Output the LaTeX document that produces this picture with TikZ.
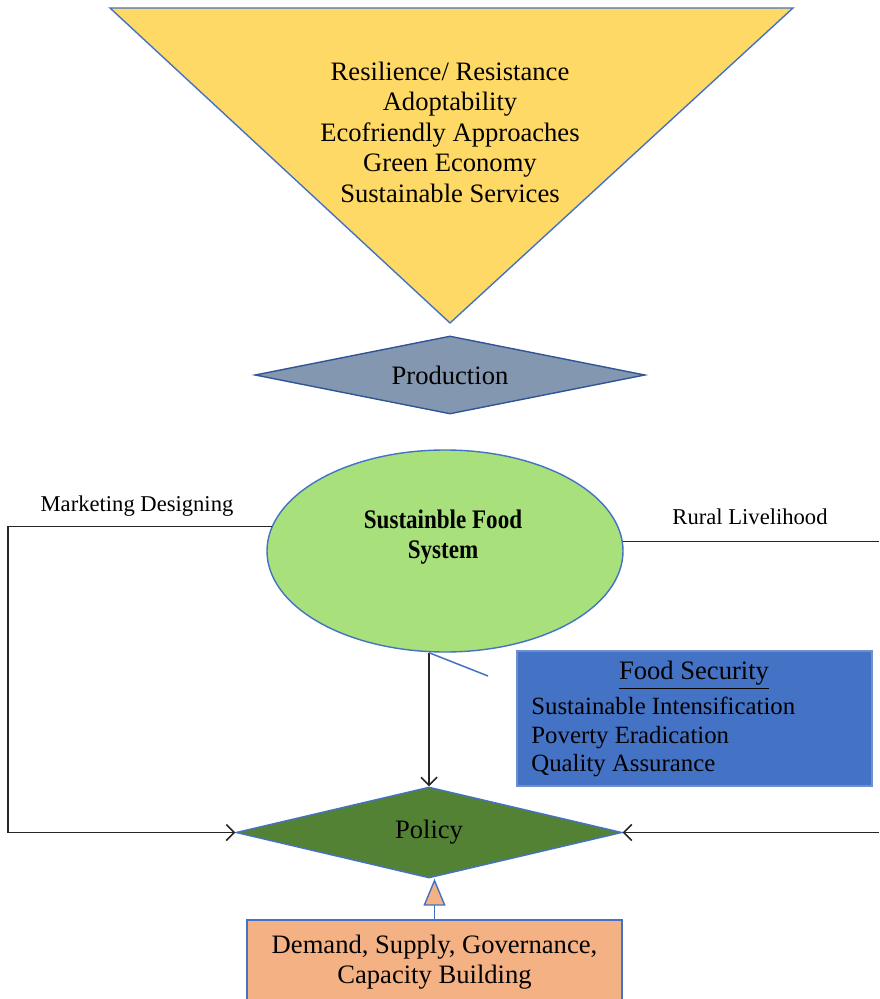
\documentclass[tikz,border=0pt]{standalone}
\usepackage{fontspec}
\setmainfont{Liberation Serif}
\newfontfamily\narrowserif[FakeStretch=0.86]{Liberation Serif}
\usetikzlibrary{shapes.geometric,arrows.meta}

\definecolor{goldfill}{HTML}{FFD966}
\definecolor{slatefill}{HTML}{8497B0}
\definecolor{slateline}{HTML}{2F5597}
\definecolor{limefill}{HTML}{A8E07C}
\definecolor{officeblue}{HTML}{4472C4}
\definecolor{lightblueline}{HTML}{6F8FD0}
\definecolor{policygreen}{HTML}{548235}
\definecolor{peachfill}{HTML}{F4B183}

\tikzset{
  big/.style={font=\fontsize{13.3}{15.25}\selectfont},
  small/.style={font=\fontsize{11.3}{13.5}\selectfont},
  outline/.style={draw=officeblue, line width=0.7pt},
  conn/.style={draw=black!85, line width=0.75pt},
  chev/.style={-{Straight Barb[length=4pt,width=8pt,line width=0.75pt]}},
  diamondbox/.style={diamond, inner sep=0pt, outline},
}

\begin{document}
\begin{tikzpicture}[x=0.5pt, y=-0.5pt]
  \useasboundingbox (0,0) rectangle (879,999);

  % goals triangle
  \draw[outline, fill=goldfill] (110,8) -- (793,8) -- (450,323) -- cycle;
  \node[big, align=center] (goals) at (450,132)
    {Resilience/ Resistance\\Adoptability\\Ecofriendly Approaches\\Green Economy\\Sustainable Services};

  % production
  \node[diamondbox, draw=slateline, fill=slatefill, aspect=5,
        minimum width=195pt, minimum height=39pt, big] (prod) at (450,375) {Production};

  % central ellipse
  \node[ellipse, outline, fill=limefill, minimum width=178pt, minimum height=101pt] (sfs) at (445,551) {};
  \node[font=\narrowserif\fontsize{13.4}{15}\selectfont\bfseries, align=center] (sfsText) at (443,537)
    {Sustainble Food\\System};

  % policy
  \node[diamondbox, fill=policygreen, aspect=4,
        minimum width=193pt, minimum height=45.5pt, big] (pol) at (429,832.5) {Policy};

  % food security box
  \node[draw=lightblueline, line width=0.7pt, fill=officeblue, minimum width=177.5pt,
        minimum height=67.5pt, inner sep=0pt] (fs) at (694.5,718.5) {};
  \node[big] (fsTitle) at (694,675) {\underline{Food Security}};
  \node[font=\fontsize{12.4}{14.25}\selectfont, align=left, anchor=west, inner sep=0pt] (fsList) at (531,737)
    {Sustainable Intensification\\Poverty Eradication\\Quality Assurance};

  % demand box
  \node[outline, fill=peachfill, minimum width=187.5pt, minimum height=42pt,
        inner sep=0pt, big, align=center] (dem) at (434.5,962)
    {Demand, Supply, Governance,\\Capacity Building};

  % side labels
  \node[small] (mkt) at (137,506) {Marketing Designing};
  \node[small] (rural) at (750,517) {Rural Livelihood};

  % helper coordinates on the page edges
  \coordinate (leftRail) at (8,700);
  \coordinate (rightRail) at (879,540);
  \coordinate (rightIn) at (879,832.5);
  \coordinate (tick) at (488,676);

  % connectors
  \draw[conn, chev] (sfs.172) -- (sfs.172 -| leftRail) |- (pol.west);
  \draw[conn] (sfs.3.6) -- (sfs.3.6 -| rightRail);
  \draw[conn, chev] (rightIn) -- (pol.east);
  \draw[conn, chev] (pol.north |- sfs.south) -- (pol.north);
  \draw[draw=officeblue, line width=0.75pt] (pol.north |- sfs.south) -- (tick);
  \draw[outline, -{Triangle[length=13.5pt,width=11pt,fill=peachfill]}]
    (dem.north) -- (dem.north |- pol.south);
\end{tikzpicture}
\end{document}
